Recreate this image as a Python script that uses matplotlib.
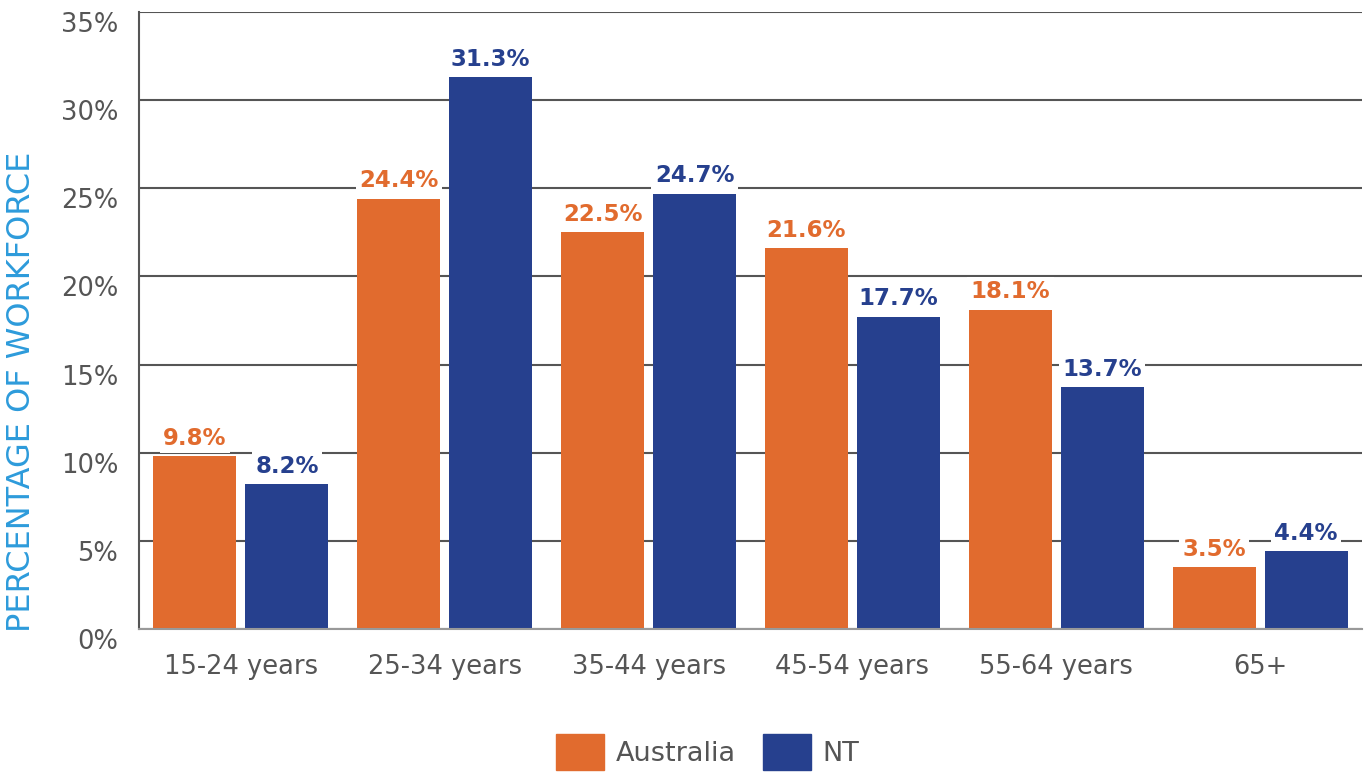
import numpy as np
import matplotlib.pyplot as plt
from matplotlib.patches import Patch

# Workforce age profile, Australia vs NT
age_groups = ['15-24 years', '25-34 years', '35-44 years', '45-54 years', '55-64 years', '65+']
australia = [9.8, 24.4, 22.5, 21.6, 18.1, 3.5]
nt = [8.2, 31.3, 24.7, 17.7, 13.7, 4.4]
y_ticks = [0, 5, 10, 15, 20, 25, 30, 35]

orange = '#E16B2E'
navy = '#26408E'
blue_label = '#2D9BDB'
grey_text = '#555555'

plt.rcParams['font.family'] = ['DejaVu Sans']

fig = plt.figure(figsize=(13.7, 7.72), dpi=100)
ax = fig.add_axes([139 / 1370, 1 - 629 / 772, (1362 - 139) / 1370, (629 - 12) / 772])

x = np.arange(len(age_groups))
width = 0.407
offset = 0.2255

bars_au = ax.bar(x - offset, australia, width, color=orange, zorder=2)
bars_nt = ax.bar(x + offset, nt, width, color=navy, zorder=2)

for bars, vals, col in [(bars_au, australia, orange), (bars_nt, nt, navy)]:
    for b, v in zip(bars, vals):
        ax.annotate(f'{v}%', (b.get_x() + b.get_width() / 2, v),
                    xytext=(0, 13), textcoords='offset points',
                    ha='center', va='center', fontsize=16.5, fontweight='bold',
                    color=col, zorder=4,
                    bbox=dict(boxstyle='square,pad=0.15', fc='white', ec='none'))

ax.set_xlim(-0.5, len(age_groups) - 0.5)
ax.set_ylim(0, 35)
ax.set_yticks(y_ticks)
ax.set_yticklabels([f'{t}%' for t in y_ticks])
ax.set_xticks(x)
ax.set_xticklabels(age_groups)
ax.tick_params(axis='both', length=0, labelsize=18.5, colors=grey_text)
ax.tick_params(axis='y', pad=15)
ax.tick_params(axis='x', pad=18)
# percent labels sit just below their gridline
for lbl in ax.get_yticklabels():
    lbl.set_verticalalignment('top')

ax.grid(axis='y', color='#555555', lw=1.5, zorder=1)
for s in ['top', 'right']:
    ax.spines[s].set_visible(False)
ax.spines['left'].set_color('#555555')
ax.spines['left'].set_linewidth(1.5)
ax.spines['bottom'].set_color('#999999')
ax.spines['bottom'].set_linewidth(1.5)
ax.spines['bottom'].set_zorder(3)

fig.text(22 / 1370, 1 - 392 / 772, 'PERCENTAGE OF WORKFORCE', rotation=90,
         ha='center', va='center', fontsize=23, color=blue_label)

handles = [Patch(color=orange, label='Australia'), Patch(color=navy, label='NT')]
fig.legend(handles=handles, loc='center', bbox_to_anchor=(708 / 1370, 1 - 752 / 772),
           ncol=2, frameon=False, fontsize=19.5, handlelength=1.75, handleheight=1.65,
           handletextpad=0.45, columnspacing=1.0, labelcolor=grey_text,
           borderpad=0)

fig.savefig('out.png', dpi=100)
